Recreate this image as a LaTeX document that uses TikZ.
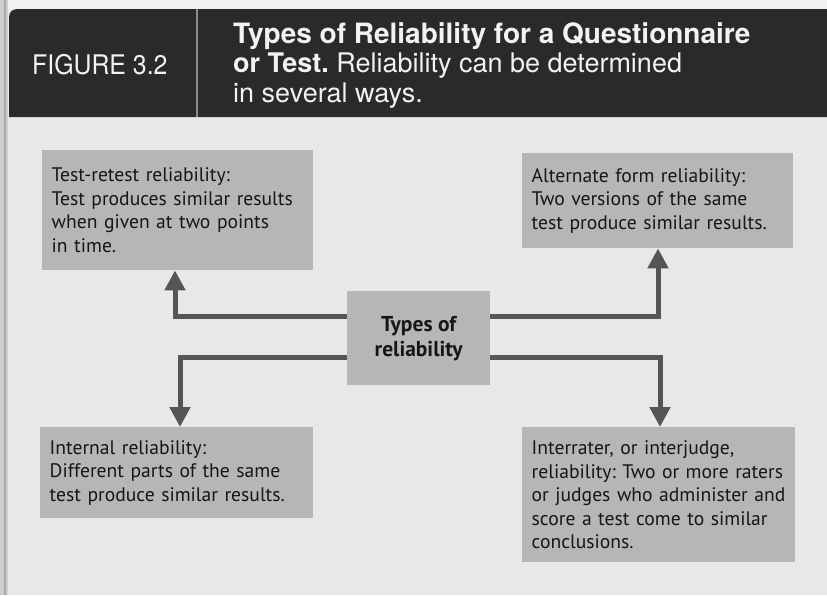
\documentclass[tikz,border=0pt]{standalone}
\usepackage{fontspec}
\setmainfont{PT Sans}
\newfontfamily\hdfont{TeX Gyre Heros}
\newfontfamily\hdcond{TeX Gyre Heros}[FakeStretch=0.92]
\usetikzlibrary{arrows.meta}
\frenchspacing
\definecolor{pagebg}{HTML}{E8E8E8}
\definecolor{topbg}{HTML}{F1F1F1}
\definecolor{stripbg}{HTML}{CFCFCF}
\definecolor{stripline}{HTML}{A8A8A8}
\definecolor{bandbg}{HTML}{2A2A2A}
\definecolor{sepc}{HTML}{8C8C8C}
\definecolor{boxbg}{HTML}{B6B6B6}
\definecolor{arrowc}{HTML}{555555}
\definecolor{inkc}{HTML}{161616}
\definecolor{headink}{HTML}{F2F2F2}
\begin{document}
\begin{tikzpicture}[x=1pt,y=-1pt,
  infobox/.style={fill=boxbg, draw=none, inner xsep=9.5pt, inner ysep=0pt,
    align=left, text=inkc, font=\frenchspacing\fontsize{19.6}{23.5}\selectfont, anchor=north west},
  flow/.style={draw=arrowc, line width=5pt, line join=miter,
    -{Triangle[width=20pt,length=20pt]}},
  headtext/.style={inner sep=0pt, text=headink}
]
\useasboundingbox (0,0) rectangle (827,595);
% page
\fill[pagebg] (0,0) rectangle (827,595);
\fill[topbg] (0,0) rectangle (827,9);
\fill[stripbg] (0,0) rectangle (8,595);
\draw[stripline, line width=1.5pt] (5,0) -- (5,595);
% header band
\fill[bandbg] (9,117) [rounded corners=8pt] -- (9,9) [sharp corners] -- (827,9) -- (827,117) -- cycle;
\draw[sepc, line width=2pt] (197,9) -- (197,117);
\node[headtext, anchor=base west, font=\hdcond\fontsize{27}{30}\selectfont] (fig) at (32,74) {FIGURE 3.2};
\node[headtext, anchor=north west, align=left, font=\frenchspacing\hdfont\fontsize{27}{29.5}\selectfont] (title) at (233,22)
  {{\bfseries\fontsize{28}{29.5}\selectfont Types of Reliability for a Questionnaire}\\{\bfseries or Test.} Reliability can be determined\\in several ways.};
% boxes
\node[infobox, text width=252pt, minimum height=120pt] (tr) at (42,150)
  {Test-retest reliability:\\Test produces similar results\\when given at two points\\in time.};
\node[infobox, text width=252pt, minimum height=95pt] (alt) at (522,153)
  {Alternate form reliability:\\Two versions of the same\\test produce similar results.};
\node[infobox, text width=254pt, minimum height=91pt] (int) at (40,427)
  {Internal reliability:\\Different parts of the same\\test produce similar results.};
\node[infobox, text width=254pt, minimum height=135pt] (irr) at (522,427)
  {Interrater, or interjudge,\\reliability: Two or more raters\\or judges who administer and\\score a test come to similar\\conclusions.};
\node[fill=boxbg, minimum width=143pt, minimum height=94pt, anchor=north west, inner sep=0pt,
  align=center, text=inkc, font=\bfseries\fontsize{21.5}{25}\selectfont] (ctr) at (347,291) {Types of\\reliability};
% connectors
\coordinate (ulb) at (175,316);
\coordinate (urb) at (658,316);
\coordinate (llb) at (180,357);
\coordinate (lrb) at (660,357);
\draw[flow] (ctr.west |- ulb) -- (ulb) -- (ulb |- tr.south);
\draw[flow] (ctr.east |- urb) -- (urb) -- (urb |- alt.south);
\draw[flow] (ctr.west |- llb) -- (llb) -- (llb |- int.north);
\draw[flow] (ctr.east |- lrb) -- (lrb) -- (lrb |- irr.north);
\end{tikzpicture}
\end{document}
